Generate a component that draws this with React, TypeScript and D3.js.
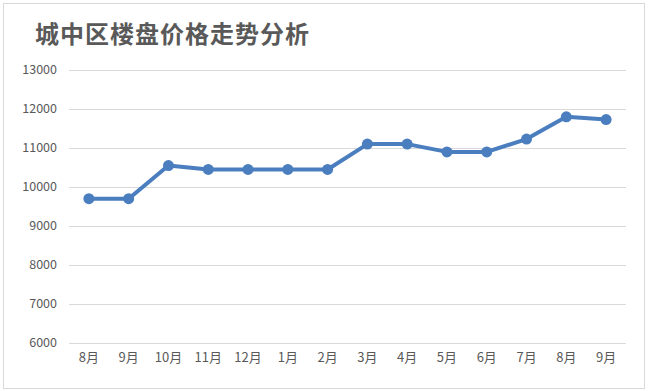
import {useMemo} from 'react';
import * as d3     from 'd3';

const months = ['8月', '9月', '10月', '11月', '12月', '1月', '2月', '3月', '4月', '5月', '6月', '7月', '8月', '9月']
	, prices = [9700, 9700, 10550, 10450, 10450, 10450, 10450, 11100, 11100, 10900, 10900, 11230, 11800, 11730]
	, yTicks = [6000, 7000, 8000, 9000, 10000, 11000, 12000, 13000]
	, title = '城中区楼盘价格走势分析'
	;

export default function App(){
	const w = 650
		, h = 391
		, left = 69
		, right = 626
		, top = 70
		, bottom = 343
		, font = '"Microsoft YaHei", "Noto Sans CJK SC", "Liberation Sans", sans-serif'
		, color = '#4a7ebf'
		;

	const {x, y, path} = useMemo(()=>{
		// 每个月一个格子，点落在格子中间
		let x = d3.scaleBand<number>().domain(d3.range(months.length)).range([left, right])
			, y = d3.scaleLinear().domain([6000, 13000]).range([bottom, top])
			, line = d3.line<number>().x((d, i)=>x(i)! + x.bandwidth() /2).y((d)=>y(d))
			;

		return {x, y, path: line(prices) || ''};
	}, []);

	return (<svg width={w} height={h}
	             style={{position: 'absolute', left: 0, top: 0, background: '#fff'}}
	             fontFamily={font}>
		<rect x={3.5} y={3.5} width={641} height={385} fill="#fff" stroke="#d9d9d9" strokeWidth={1}/>
		<text x={35} y={43} fontSize={24} fontWeight="bold" fill="#595959" letterSpacing={1}>{title}</text>

		{/* 网格线 和 纵轴文字 */}
		{yTicks.map((t)=>{
			return (<g key={t}>
				<line x1={left} x2={right} y1={Math.round(y(t)) + 0.5} y2={Math.round(y(t)) + 0.5}
				      stroke="#d9d9d9" strokeWidth={1}/>
				<text x={57} y={y(t)} dy="0.35em" textAnchor="end" fontSize={12.5} fill="#595959">{t}</text>
			</g>);
		})}

		{/* 横轴文字 */}
		{months.map((m, i)=>{
			return (<text key={i} x={x(i)! + x.bandwidth() /2} y={362} textAnchor="middle"
			              fontSize={13} fill="#595959">{m}</text>);
		})}

		<path d={path} fill="none" stroke={color} strokeWidth={4} strokeLinejoin="round"/>
		{prices.map((p, i)=>{
			return (<circle key={i} cx={x(i)! + x.bandwidth() /2} cy={y(p)} r={5.5} fill={color}/>);
		})}
	</svg>);
}
